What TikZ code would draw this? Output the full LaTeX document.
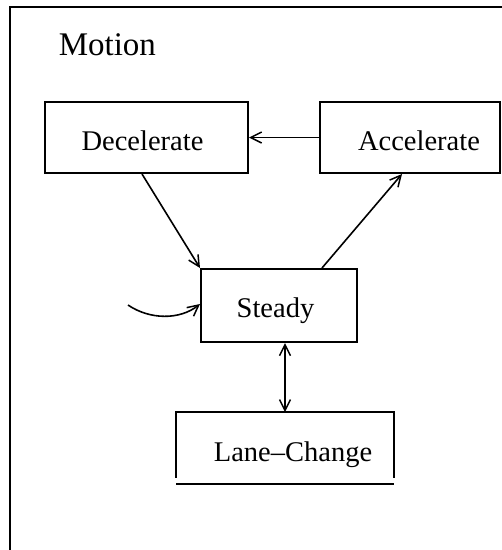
\documentclass[tikz,border=0pt]{standalone}
\usepackage{fontspec}
\setmainfont{Liberation Serif}
\usetikzlibrary{arrows.meta,calc}
\begin{document}
\begin{tikzpicture}[x=1pt,y=-1pt,
  line width=1.6pt,
  box/.style={draw, rectangle, inner sep=0pt, line width=2pt},
  lbl/.style={anchor=base, inner sep=0pt, font=\fontsize{28.5}{30}\selectfont},
  arr/.style={-{Straight Barb[length=11pt,width=11pt,line width=1.5pt]}},
  darr/.style={{Straight Barb[length=11pt,width=11pt,line width=1.5pt]}-{Straight Barb[length=11pt,width=11pt,line width=1.5pt]}}]
\useasboundingbox (0,0) rectangle (502,550);
% outer frame (clipped by page)
\draw[line width=2pt] (10,560) -- (10,7) -- (512,7);
\node[anchor=base west, inner sep=0pt, font=\fontsize{33}{36}\selectfont] (title) at (58,55) {Motion};
% boxes
\node[box, minimum width=203pt, minimum height=71pt] (dec) at (146.5,137.5) {};
\node[box, minimum width=180pt, minimum height=71pt] (acc) at (410,137.5) {};
\node[box, minimum width=156pt, minimum height=73pt] (st) at (279,305.5) {};
\node[inner sep=0pt, minimum width=216pt, minimum height=70pt] (lc) at (285,448) {};
\draw[line width=2pt] ([yshift=6pt]lc.south west) -- (lc.north west) -- (lc.north east) -- ([yshift=6pt]lc.south east);
\draw[line width=2pt] (lc.south west) -- (lc.south east);
% labels
\node[lbl] (tdec) at (142.5,150) {Decelerate};
\node[lbl] (tacc) at (419,150) {Accelerate};
\node[lbl] (tst) at (275.5,317) {Steady};
\node[lbl] (tlc) at (293,461) {Lane–Change};
% connectors
\draw[arr] (acc.west) -- (dec.east);
\draw[arr] ([xshift=-4.5pt]dec.south) -- (st.north west);
\draw[arr] ([xshift=43pt]st.north) -- ([xshift=-8pt]acc.south);
\draw[darr] (st.south -| lc.north) -- (lc.north);
\coordinate (init) at (128,305);
\draw[arr] (init) .. controls (150,320) and (180,320) .. ([yshift=1.5pt]st.west);
\end{tikzpicture}
\end{document}
